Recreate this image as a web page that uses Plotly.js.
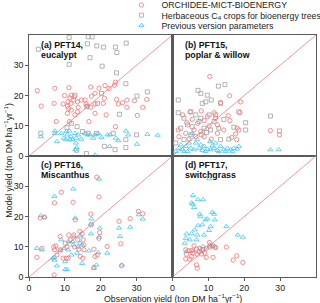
<!DOCTYPE html>
<html>
<head>
<meta charset="utf-8">
<script src="https://cdn.plot.ly/plotly-3.0.1.min.js"></script>
<style>html,body{margin:0;padding:0;background:#fff;}#chart{width:320px;height:303px;}</style>
</head>
<body>
<div id="chart"></div>
<script>
// ---------- data (observation yield x, model yield y; ton DM ha-1 yr-1) ----------
const seriesNames = ["ORCHIDEE-MICT-BIOENERGY", "Herbaceous C<sub>4</sub> crops for bioenergy trees", "Previous version parameters"];
const panelLabels = [["(a) PFT14,", "eucalypt"], ["(b) PFT15,", "poplar & willow"], ["(c) PFT16,", "Miscanthus"], ["(d) PFT17,", "switchgrass"]];
const tickValues = [0, 10, 20, 30];
const axisRange = [0, 40];
const identityLine = [0, 40];

// Panel (a) PFT14 eucalypt
const obsA_orch = [2.3,3.4,7.2,11.1,17.2,21.2,24.1,23.8,19.5,22.3,9.9,11.8,11.4,12.5,14.6,15.6,17.4,18.4,21.0,9.5,7.0,10.9,11.7,13.5,15.9,16.3,13.7,11.0,11.8,10.7,12.8,13.5,18.4,20.7,24.4,24.9,27.3,29.4,32.8,31.7,26.1,17.2,18.4,16.7,24.1,30.2,11.3,7.6,21.5,27.3,10.7,12.6];
const modA_orch = [21.6,16.5,22.4,22.6,22.8,23.3,24.4,23.4,22.4,22.3,20.0,20.1,19.2,18.5,18.5,18.5,19.8,20.7,19.1,17.2,17.4,17.9,17.4,17.9,17.2,16.5,16.1,15.7,15.2,14.1,13.6,14.6,17.2,17.4,18.7,17.2,18.5,18.3,18.7,16.1,17.6,16.1,14.1,11.4,9.7,13.4,11.4,11.4,13.6,16.1,16.5,19.6];
const obsA_herb = [2.6,11.2,16.5,17.6,16.3,18.9,20.8,24.1,24.5,27.1,11.2,17.0,20.4,24.4,27.0,12.8,20.2,19.1,30.1,33.0,25.2,16.1,3.3,11.8,10.6,13.4,14.9,16.5,18.8,27.0,23.5,21.0,27.0,24.0,16.0,13.3,30.0];
const modA_herb = [35.3,39.2,39.4,39.4,37.1,36.4,36.0,36.0,34.2,37.3,30.3,32.5,29.7,27.5,23.9,20.1,20.7,17.4,19.8,21.2,13.8,16.3,7.5,10.8,9.4,9.7,8.1,7.5,7.5,5.4,7.5,3.2,2.8,2.1,0.8,1.9,7.0];
const obsA_prev = [3.3,7.2,7.2,7.8,9.0,9.7,10.3,10.7,11.2,11.7,12.1,12.8,13.2,13.7,14.6,15.6,16.3,17.0,18.4,19.3,20.2,21.9,22.6,24.2,24.9,27.0,27.7,33.0,12.9,13.3,13.1,18.4,11.4,10.4,17.9,30.1,35.9,22.5];
const modA_prev = [6.4,8.3,7.5,4.8,7.5,5.9,5.4,7.0,8.3,6.4,5.4,7.5,5.9,7.0,5.6,7.5,7.0,7.0,7.0,7.5,6.2,7.0,7.0,5.9,5.1,8.3,7.0,7.2,2.1,2.8,4.3,0.3,5.4,8.1,5.9,3.9,6.9,3.2];

// Panel (b) PFT15 poplar & willow
const obsB_orch = [10.4,13.4,15.9,19.0,18.8,2.8,4.9,8.0,11.6,15.5,16.0,4.0,7.0,8.8,10.2,12.0,1.6,3.7,6.0,7.9,12.5,14.3,18.0,17.6,16.5,17.9,18.5,1.8,4.6,8.8,10.8,27.3,29.8,5.5,9.7,12.5,6.5];
const modB_orch = [26.3,17.7,19.9,17.9,14.3,13.6,14.6,14.9,14.3,13.3,11.7,11.0,10.8,11.7,9.9,12.5,8.6,7.5,8.6,8.1,7.5,8.6,9.2,7.3,6.1,5.4,8.6,6.4,5.6,6.4,5.6,8.4,7.0,12.1,13.0,10.3,6.4];
const obsB_herb = [12.8,14.6,7.1,7.9,9.7,1.6,8.3,9.3,10.8,13.4,18.5,1.6,5.1,3.2,6.5,7.9,10.2,12.0,14.3,4.2,2.3,5.5,8.8,10.6,12.9,17.1,20.4,0.9,3.2,5.1,8.0,13.4,15.7,20.4,27.3,29.8,7.4,11.6,9.5];
const modB_herb = [23.1,23.6,21.7,20.7,20.1,18.5,17.4,17.9,18.5,17.4,14.6,14.3,14.6,12.5,13.6,12.5,13.6,13.6,12.1,10.3,9.2,9.7,9.2,8.6,9.2,9.5,11.0,4.3,5.4,7.0,7.0,5.4,5.6,8.6,13.2,8.3,11.4,11.4,7.8];
const obsB_prev = [0.9,1.8,2.8,3.7,4.2,5.1,6.0,6.5,7.4,8.3,8.8,9.7,10.6,11.6,12.5,13.4,14.3,15.3,16.2,17.1,18.0,18.5,5.5,6.9,4.6,10.5,12.0,27.3,29.6,3.2,7.9,9.2,12.9,14.8,16.7,2.3,11.1];
const modB_prev = [1.5,2.6,2.1,3.2,1.5,2.6,2.1,4.3,2.6,1.9,3.2,2.3,2.1,2.6,1.9,3.2,2.1,2.6,2.1,2.6,2.3,3.2,7.5,5.4,4.3,4.8,4.3,2.1,2.1,1.5,3.7,1.5,1.5,1.5,1.5,3.7,3.4];

// Panel (c) PFT16 Miscanthus
const obsC_orch = [9.0,18.9,19.5,7.1,12.3,17.2,17.4,12.9,3.1,4.3,30.5,31.7,28.2,25.1,25.6,25.8,19.7,19.5,21.8,18.1,19.0,18.4,18.1,14.2,12.5,11.1,8.7,14.8,15.1,13.6,11.5,10.1,7.5,6.9,7.1,3.6,2.2,10.4,10.9,9.5,7.0,13.9,15.3,15.3,14.3,15.0,7.8,10.6,8.7,12.7];
const modC_orch = [28.0,33.0,26.5,24.5,24.7,20.8,17.3,18.9,19.5,19.8,21.7,20.9,19.3,18.4,11.0,3.7,14.7,12.8,10.1,9.2,7.3,6.8,3.2,15.1,13.9,13.9,13.4,14.3,12.3,12.3,12.3,11.2,10.3,9.9,9.0,9.5,6.5,6.2,6.2,6.2,0.7,9.2,10.6,9.0,6.8,6.2,7.3,9.9,9.0,9.9];
const obsC_prev = [12.3,19.5,7.1,3.3,4.3,12.9,17.4,17.2,19.7,19.5,25.1,25.4,28.2,30.6,31.7,2.2,3.6,7.0,7.1,6.7,8.7,9.0,9.7,11.1,10.9,10.1,7.8,10.1,10.6,12.2,12.3,13.4,14.2,14.8,14.8,16.7,17.3,18.8,19.3,21.8,25.9,12.5,14.3,13.7,11.8,18.1];
const modC_prev = [29.1,32.4,26.7,20.3,19.8,19.5,19.2,17.5,16.2,13.2,16.2,13.4,16.5,20.6,19.2,9.5,9.0,6.5,5.6,6.2,8.7,12.3,9.5,11.7,9.0,5.1,3.7,2.5,2.5,11.7,10.6,7.9,11.2,10.6,4.5,8.7,14.3,4.0,8.1,7.9,4.0,13.4,13.6,9.9,7.3,2.9];

// Panel (d) PFT17 switchgrass
const obsD_orch = [10.3,11.8,3.7,5.3,6.0,6.7,7.4,8.5,9.4,10.4,11.3,12.0,3.9,5.3,6.9,8.1,9.0,9.4,3.7,4.8,11.3,6.7,6.9,15.0,17.9,16.9,19.6,4.6,7.6,5.7];
const modD_orch = [11.4,9.9,9.0,8.7,10.3,9.2,8.4,9.0,9.5,9.9,10.3,9.7,7.5,6.8,7.5,7.6,7.9,6.5,6.0,5.9,6.5,4.0,2.9,9.9,7.0,5.6,4.8,8.7,9.5,7.9];
const obsD_prev = [10.2,5.7,8.5,7.1,5.3,5.7,6.0,11.1,7.6,7.8,9.7,11.6,11.8,9.2,8.3,7.1,10.6,6.2,10.2,15.0,5.3,3.9,6.9,8.8,3.7,4.8,18.2,19.6,3.4,6.7,8.5,10.4,11.1,3.9,8.1,5.7];
const modD_prev = [32.5,27.0,25.6,25.6,24.5,24.1,23.0,21.4,20.8,20.0,19.2,20.8,18.9,18.9,17.3,17.0,16.7,15.6,15.4,16.7,14.3,14.3,13.9,13.9,12.8,12.3,13.9,13.2,11.2,12.3,10.1,10.6,10.1,8.4,9.0,8.7];

// ---------- styling ----------
const FONT = "Liberation Sans, Arial, sans-serif";
const FS = 8.8;
const RED = "#f27474", GREY = "#a0a0a0", BLUE = "#3ec6f2", LINE11 = "#f28a8a";
const FRAME = "#5a5a5a";

const panels = [
  {xa: "x",  ya: "y",  orch: [obsA_orch, modA_orch], herb: [obsA_herb, modA_herb], prev: [obsA_prev, modA_prev]},
  {xa: "x2", ya: "y2", orch: [obsB_orch, modB_orch], herb: [obsB_herb, modB_herb], prev: [obsB_prev, modB_prev]},
  {xa: "x3", ya: "y3", orch: [obsC_orch, modC_orch], herb: null, prev: [obsC_prev, modC_prev]},
  {xa: "x4", ya: "y4", orch: [obsD_orch, modD_orch], herb: null, prev: [obsD_prev, modD_prev]}
];

const traces = [];
panels.forEach((p, i) => {
  traces.push({x: identityLine, y: identityLine, xaxis: p.xa, yaxis: p.ya, mode: "lines",
    line: {color: LINE11, width: 0.9}, showlegend: false, hoverinfo: "skip"});
  if (p.herb) traces.push({x: p.herb[0], y: p.herb[1], xaxis: p.xa, yaxis: p.ya, mode: "markers",
    type: "scatter", name: seriesNames[1], legend: "legend2", showlegend: i === 0,
    marker: {symbol: "square-open", size: 4, color: GREY, line: {width: 0.8}}});
  traces.push({x: p.prev[0], y: p.prev[1], xaxis: p.xa, yaxis: p.ya, mode: "markers",
    type: "scatter", name: seriesNames[2], legend: "legend3", showlegend: i === 0,
    marker: {symbol: "triangle-up-open", size: 4.5, color: BLUE, line: {width: 0.8}}});
  traces.push({x: p.orch[0], y: p.orch[1], xaxis: p.xa, yaxis: p.ya, mode: "markers",
    type: "scatter", name: seriesNames[0], legend: "legend", showlegend: i === 0,
    marker: {symbol: "circle-open", size: 4.3, color: RED, line: {width: 0.8}}});
});

function axis(domain, anchor, showLabels) {
  return {domain: domain, anchor: anchor, range: axisRange, tickvals: tickValues,
    showticklabels: showLabels, ticks: showLabels ? "outside" : "", ticklen: 2.5, tickwidth: 1,
    tickcolor: FRAME, showline: true, mirror: true, linecolor: FRAME, linewidth: 1.3,
    showgrid: false, zeroline: false, tickfont: {family: FONT, size: FS, color: "#222"}};
}

const legendBase = {x: 0.322, xanchor: "left", yanchor: "middle", bgcolor: "rgba(0,0,0,0)",
  font: {family: FONT, size: FS, color: "#222"}, itemwidth: 30, borderwidth: 0};

const annotations = [];
const axRefs = [["x", "y"], ["x2", "y2"], ["x3", "y3"], ["x4", "y4"]];
panelLabels.forEach((lab, i) => {
  const top = i < 2 ? -9.5 : -8.5;
  lab.forEach((t, j) => {
    annotations.push({text: "<b>" + t + "</b>", xref: axRefs[i][0] + " domain", yref: axRefs[i][1] + " domain",
      x: 0, y: 1, xanchor: "left", yanchor: "middle", xshift: 10, yshift: top - 10 * j,
      showarrow: false, font: {family: FONT, size: FS, color: "#111"}});
  });
});
annotations.push({text: "Model yield (ton DM ha<sup>−1</sup>yr<sup>−1</sup>)", xref: "paper", yref: "paper",
  x: 0, y: 0.48, xshift: -21, textangle: -90, showarrow: false, xanchor: "center", yanchor: "middle",
  font: {family: FONT, size: FS, color: "#222"}});
annotations.push({text: "Observation yield (ton DM ha<sup>−1</sup>yr<sup>−1</sup>)", xref: "paper", yref: "paper",
  x: 0.5, y: 0, yshift: -20.5, showarrow: false, xanchor: "center", yanchor: "middle",
  font: {family: FONT, size: FS, color: "#222"}});

const layout = {
  width: 320, height: 303,
  margin: {l: 29, r: 4, t: 35, b: 26, autoexpand: false},
  paper_bgcolor: "#fff", plot_bgcolor: "#fff",
  font: {family: FONT, size: FS, color: "#222"},
  xaxis:  axis([0, 0.5], "y",  false),
  yaxis:  axis([0.5, 1], "x",  true),
  xaxis2: axis([0.5, 1], "y2", false),
  yaxis2: axis([0.5, 1], "x2", false),
  xaxis3: axis([0, 0.5], "y3", true),
  yaxis3: axis([0, 0.5], "x3", true),
  xaxis4: axis([0.5, 1], "y4", true),
  yaxis4: axis([0, 0.5], "x4", false),
  legend:  Object.assign({}, legendBase, {y: 1.124}),
  legend2: Object.assign({}, legendBase, {y: 1.082}),
  legend3: Object.assign({}, legendBase, {y: 1.040}),
  annotations: annotations,
  showlegend: true
};

Plotly.newPlot("chart", traces, layout, {displayModeBar: false, staticPlot: true});
</script>
</body>
</html>
